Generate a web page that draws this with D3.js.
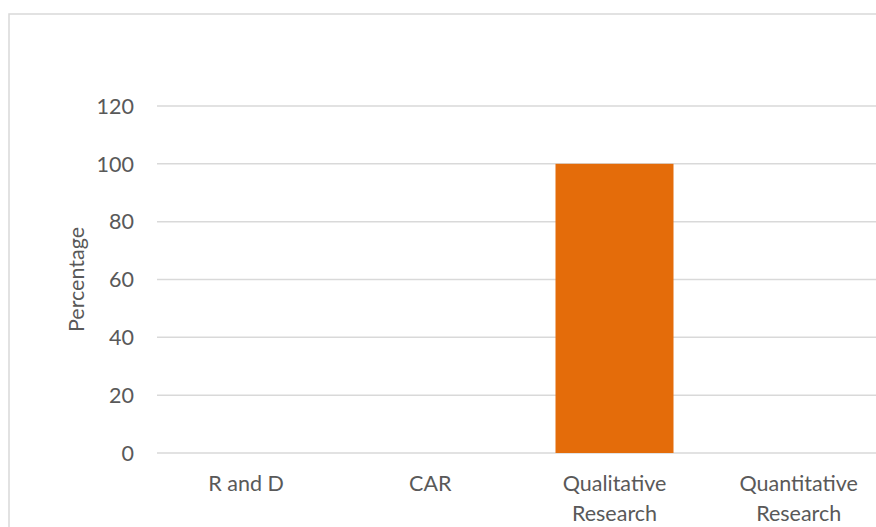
<!DOCTYPE html>
<html><head><meta charset="utf-8">
<script src="https://cdn.jsdelivr.net/npm/d3@7"></script>
<style>html,body{margin:0;padding:0;background:#fff;}svg{display:block;}</style>
</head><body>
<svg id="c" width="876" height="527"></svg>
<script>
const categories = [["R and D"], ["CAR"], ["Qualitative", "Research"], ["Quantitative", "Research"]];
const values = [0, 0, 100, 0];
const yTicks = [0, 20, 40, 60, 80, 100, 120];
const yLabel = "Percentage";

const svg = d3.select("#c");
const font = "Lato, 'Open Sans', sans-serif";
const fs = 21.5;
const textColor = "#595959";
const gridColor = "#d9d9d9";

// outer border (extends past the frame on right and bottom)
svg.append("rect").attr("x", 9).attr("y", 14).attr("width", 900).attr("height", 560)
  .attr("fill", "none").attr("stroke", gridColor).attr("stroke-width", 1.5);

const x0 = 154, bw = 184.2;
const x = d3.scaleBand().domain(d3.range(categories.length)).range([x0, x0 + 4 * bw]).paddingInner(0.3594).paddingOuter(0.1797);
const xBand = d3.scaleBand().domain(d3.range(categories.length)).range([x0, x0 + 4 * bw]);
const y = d3.scaleLinear().domain([0, 120]).range([453, 106]);

// gridlines
svg.append("g").selectAll("line").data(yTicks).join("line")
  .attr("x1", 157).attr("x2", 880)
  .attr("y1", d => y(d)).attr("y2", d => y(d))
  .attr("stroke", gridColor).attr("stroke-width", 1.5);

// y tick labels
svg.append("g").selectAll("text").data(yTicks).join("text")
  .attr("x", 134).attr("y", d => y(d)).attr("dy", "0.36em")
  .attr("text-anchor", "end").attr("font-family", font).attr("font-size", fs)
  .attr("fill", textColor).text(d => d);

// bars
svg.append("g").selectAll("rect").data(values.map((v, i) => ({v, i}))).join("rect")
  .attr("x", d => x(d.i)).attr("width", x.bandwidth())
  .attr("y", d => y(d.v)).attr("height", d => y(0) - y(d.v))
  .attr("fill", "#e46c0a");

// x labels
const xl = svg.append("g").selectAll("text").data(categories).join("text")
  .attr("x", (d, i) => xBand(i) + xBand.bandwidth() / 2)
  .attr("y", 491).attr("text-anchor", "middle")
  .attr("font-family", font).attr("font-size", fs).attr("fill", textColor);
xl.selectAll("tspan").data((d, i) => d.map(t => ({t, i}))).join("tspan")
  .attr("x", d => xBand(d.i) + xBand.bandwidth() / 2)
  .attr("dy", (d, j) => j === 0 ? 0 : 30).text(d => d.t);

// y axis title
svg.append("text").attr("transform", "translate(84,279.5) rotate(-90)")
  .attr("text-anchor", "middle").attr("font-family", font).attr("font-size", fs)
  .attr("fill", textColor).text(yLabel);
</script>
</body></html>
